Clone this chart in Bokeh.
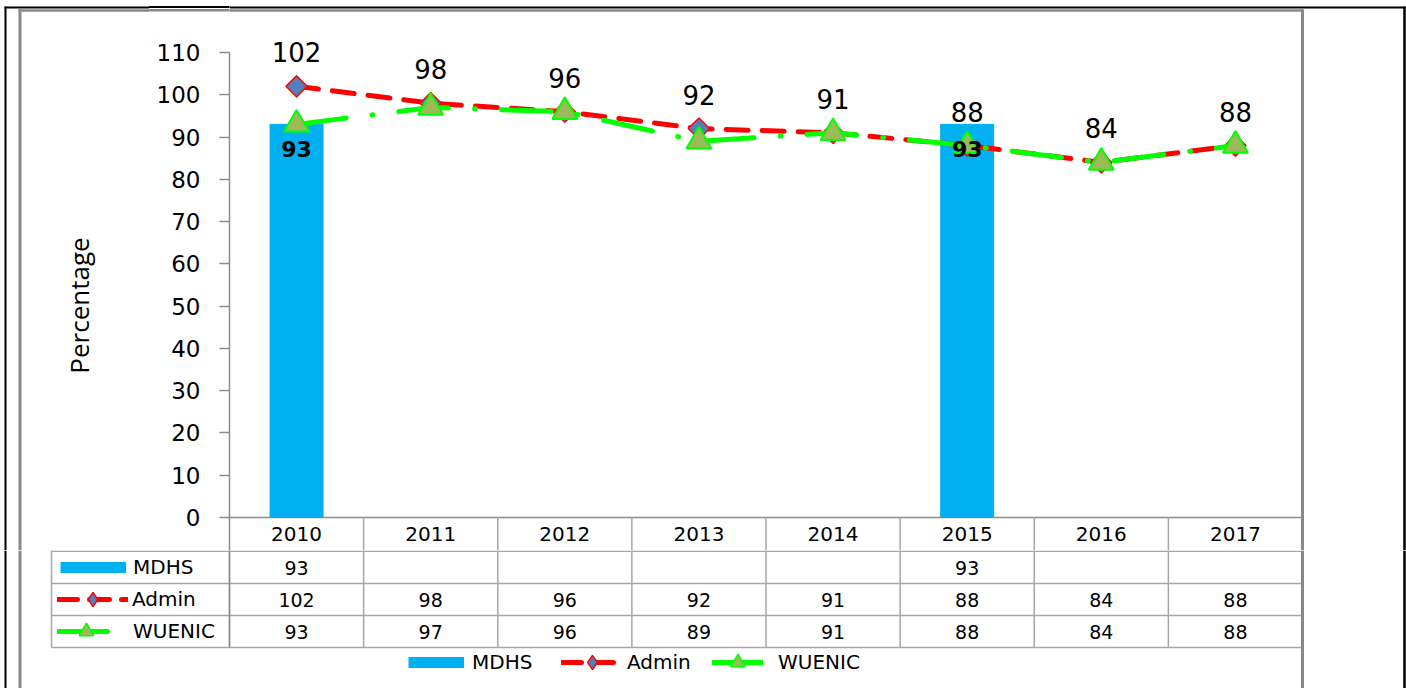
import numpy as np
from bokeh.plotting import figure
from bokeh.layouts import row
from bokeh.models import Range1d, FixedTicker, ColumnDataSource, Legend, LegendItem
from bokeh.core.properties import value
from bokeh.embed import file_html
from bokeh.resources import INLINE

# ---------------- data ----------------
years = ["2010", "2011", "2012", "2013", "2014", "2015", "2016", "2017"]
mdhs = [93, None, None, None, None, 93, None, None]
admin = [102, 98, 96, 92, 91, 88, 84, 88]
wuenic = [93, 97, 96, 89, 91, 88, 84, 88]
y_ticks = [0, 10, 20, 30, 40, 50, 60, 70, 80, 90, 100, 110]
series_names = ["MDHS", "Admin", "WUENIC"]
y_title = "Percentage"

# ---------------- colours / fonts ----------------
C_BAR = "#00b0f0"
C_ADMIN = "#ff0000"
C_ADMIN_FILL = "#4f81bd"
C_WU = "#00ff00"
C_WU_FILL = "#9bbb59"
C_GRID = "#a6a6a6"
C_AXIS = "#8c8c8c"
C_FRAME = "#888888"
F_NUM = "DejaVu Sans"

# ---------------- layout (page pixels) ----------------
TOTAL_W = 1406
TOTAL_H = 688
FRAME_L = 229          # left edge of first category column
COL_W = (1302 - 229) / 8
Y0 = 517               # pixel of y=0
Y110 = 52              # pixel of y=110
HDR_B = 550            # bottom of header row (end of the chart part)
TAB_L = 51             # left edge of the table
PPU = (Y0 - Y110) / 110.0
AXIS_PANEL = 80        # room for the y axis ticks and labels
L_W = FRAME_L - AXIS_PANEL

A_H = HDR_B
B_H = TOTAL_H - A_H


def px_x(px):
    return (px - FRAME_L) / COL_W


def px_yA(py):
    return (Y0 - py) / PPU


x_end = px_x(TOTAL_W)
y_start = px_yA(HDR_B)
y_end = px_yA(0)

xs = [i + 0.5 for i in range(len(years))]
src = ColumnDataSource(dict(
    x=xs, year=years, admin=admin, wuenic=wuenic,
    admin_lbl=[str(v) for v in admin], wuenic_lbl=[str(v) for v in wuenic],
))
bi = [i for i, v in enumerate(mdhs) if v is not None]
bar_src = ColumnDataSource(dict(
    x=[xs[i] for i in bi], top=[mdhs[i] for i in bi], lbl=[str(mdhs[i]) for i in bi],
))

# ---------------- left strip: y title + box edges ----------------
L = figure(width=L_W, height=A_H, x_axis_type=None, y_axis_type=None, title=None,
           x_range=Range1d(0, L_W), y_range=Range1d(0, A_H),
           toolbar_location=None, output_backend="svg",
           min_border_left=0, min_border_right=0, min_border_top=0, min_border_bottom=0)
L.outline_line_color = None
L.grid.grid_line_color = None
L.segment(x0=5, y0=A_H - 6, x1=5, y1=0, line_color="black", line_width=2)
L.segment(x0=19.5, y0=A_H - 8.75, x1=19.5, y1=0, line_color=C_FRAME, line_width=3)
L.segment(x0=4, y0=A_H - 7, x1=L_W, y1=A_H - 7, line_color="black", line_width=2)
L.segment(x0=18, y0=A_H - 10, x1=L_W, y1=A_H - 10, line_color=C_FRAME, line_width=2.5)
L.text(x=78, y=A_H - 305, text=[y_title], angle=np.pi / 2, text_align="center",
       text_baseline="middle", text_font=value("Open Sans"), text_font_size="26px",
       text_color="black")

# ---------------- figure A: chart + header row ----------------
A = figure(width=TOTAL_W - L_W, height=A_H, x_axis_type=None, title=None,
           x_range=Range1d(0, x_end), y_range=Range1d(y_start, y_end),
           toolbar_location=None, output_backend="svg",
           min_border_left=AXIS_PANEL, min_border_right=0,
           min_border_top=0, min_border_bottom=0)
A.outline_line_color = None
A.grid.grid_line_color = None
A.border_fill_color = None
# box edges continuing through the axis margin (behind the transparent border)
A.styles = {
    "background-color": "white",
    "background-image": "linear-gradient(#000,#000), linear-gradient(#888,#888)",
    "background-size": "100% 2px, 100% 2.5px",
    "background-position": "0px 6px, 0px 8.75px",
    "background-repeat": "no-repeat",
}

ya = A.yaxis[0]
ya.ticker = FixedTicker(ticks=y_ticks)
ya.bounds = (y_start, 110)
ya.axis_line_color = C_AXIS
ya.axis_line_width = 1.5
ya.major_tick_line_color = C_AXIS
ya.major_tick_line_width = 1.5
ya.major_tick_out = 10
ya.major_tick_in = 0
ya.minor_tick_line_color = None
ya.major_label_text_font = F_NUM
ya.major_label_text_font_size = "23px"
ya.major_label_text_color = "black"
ya.major_label_standoff = 19

# frame lines of the chart area / document box (layout)
A.segment(x0=0, y0=px_yA(7), x1=px_x(1405), y1=px_yA(7), line_color="black", line_width=2)
A.segment(x0=0, y0=px_yA(10), x1=px_x(1302), y1=px_yA(10), line_color=C_FRAME, line_width=2.5)
A.segment(x0=px_x(1302), y0=y_start, x1=px_x(1302), y1=px_yA(8.75), line_color=C_FRAME, line_width=3)
A.segment(x0=px_x(1404), y0=y_start, x1=px_x(1404), y1=px_yA(6), line_color="black", line_width=2.5)

# table header row
A.segment(x0=0, y0=0, x1=8, y1=0, line_color=C_AXIS, line_width=1.5)
A.segment(x0=list(range(1, 8)), y0=y_start, x1=list(range(1, 8)), y1=0,
          line_color=C_GRID, line_width=1.5)
A.text(x="x", y=y_start / 2, text="year", source=src, text_align="center",
       text_baseline="middle", text_font=value(F_NUM), text_font_size="20px",
       text_color="black")

# data
A.vbar(x="x", top="top", width=0.395, source=bar_src, fill_color=C_BAR, line_color=C_BAR)
A.line("x", "admin", source=src, line_color=C_ADMIN, line_width=5,
       line_dash="22 14", line_cap="round")
A.scatter("x", "admin", source=src, marker="square", angle=np.pi / 4, size=15,
          fill_color=C_ADMIN_FILL, line_color=C_ADMIN, line_width=1.5)
A.line("x", "wuenic", source=src, line_color=C_WU, line_width=5,
       line_dash="50 26 1 26", line_cap="round")
A.scatter("x", "wuenic", source=src, marker="triangle", size=25,
          fill_color=C_WU_FILL, line_color=C_WU, line_width=2)
A.text(x="x", y="top", text="lbl", source=bar_src, y_offset=25, text_align="center",
       text_baseline="middle", text_font=value(F_NUM), text_font_style="bold",
       text_font_size="22px", text_color="black")
A.text(x="x", y="admin", text="admin_lbl", source=src, y_offset=-34, text_align="center",
       text_baseline="middle", text_font=value(F_NUM), text_font_size="26px",
       text_color="black")

# ---------------- figure B: data table + legend ----------------
B = figure(width=TOTAL_W, height=B_H, x_axis_type=None, y_axis_type=None, title=None,
           x_range=Range1d(px_x(0), x_end), y_range=Range1d(B_H, 0),
           toolbar_location=None, output_backend="svg",
           min_border_left=0, min_border_right=0,
           min_border_top=0, min_border_bottom=0)
B.outline_line_color = None
B.grid.grid_line_color = None

x_tab = px_x(TAB_L)
row_top = [0.75, 33, 65, 97]
B.segment(x0=x_tab, y0=row_top, x1=px_x(1302), y1=row_top, line_color=C_GRID, line_width=1.5)
vx = [x_tab] + list(range(0, 8))
B.segment(x0=vx, y0=0, x1=vx, y1=97, line_color=C_GRID, line_width=1.5)
B.segment(x0=0, y0=0, x1=0, y1=97, line_color=C_AXIS, line_width=1.5)
# document / chart box lines
B.segment(x0=px_x(1302), y0=0, x1=px_x(1302), y1=B_H, line_color=C_FRAME, line_width=3)
B.segment(x0=px_x(1404), y0=0, x1=px_x(1404), y1=B_H, line_color="black", line_width=2.5)
B.segment(x0=px_x(19.5), y0=0, x1=px_x(19.5), y1=B_H, line_color=C_FRAME, line_width=3)
B.segment(x0=px_x(5), y0=0, x1=px_x(5), y1=B_H, line_color="black", line_width=2)

B.text(x="x", y=17, text="lbl", source=bar_src, text_align="center", text_baseline="middle",
       text_font=value(F_NUM), text_font_size="19px", text_color="black")
B.text(x="x", y=49, text="admin_lbl", source=src, text_align="center", text_baseline="middle",
       text_font=value(F_NUM), text_font_size="19px", text_color="black")
B.text(x="x", y=81, text="wuenic_lbl", source=src, text_align="center", text_baseline="middle",
       text_font=value(F_NUM), text_font_size="19px", text_color="black")

# legend key renderers (one placeholder point each, never visible)
NA = [float("nan")]
k_mdhs = B.line(x=NA, y=NA, line_color=C_BAR, line_width=11, line_cap="butt")
k_adm_l = B.line(x=NA, y=NA, line_color=C_ADMIN, line_width=5, line_dash="20 12", line_cap="round")
k_adm_m = B.scatter(x=NA, y=NA, marker="diamond", fill_color=C_ADMIN_FILL,
                    line_color=C_ADMIN, line_width=1.5)
k_wu_l = B.line(x=NA, y=NA, line_color=C_WU, line_width=5, line_dash="50 26 1 26", line_cap="round")
k_wu_m = B.scatter(x=NA, y=NA, marker="triangle", fill_color=C_WU_FILL,
                   line_color=C_WU, line_width=1.5)
keys = {"MDHS": [k_mdhs], "Admin": [k_adm_l, k_adm_m], "WUENIC": [k_wu_l, k_wu_m]}


def add_legend(label, x_px, cy_px, gw, standoff, gh=36):
    leg = Legend(items=[LegendItem(label=label, renderers=keys[label])],
                 location=(x_px, TOTAL_H - (cy_px + gh / 2)),
                 orientation="vertical", glyph_width=gw, glyph_height=gh,
                 label_height=gh, label_standoff=standoff, padding=0, margin=0,
                 spacing=0, border_line_color=None, background_fill_alpha=0,
                 label_text_font=F_NUM, label_text_font_size="20px",
                 label_text_color="black")
    B.add_layout(leg)


# row keys of the data table
add_legend(series_names[0], 60, 567, 66, 7)
add_legend(series_names[1], 57, 599, 71, 4)
add_legend(series_names[2], 57, 631, 58, 18)
# legend below the table
add_legend(series_names[0], 408, 662, 56, 8)
add_legend(series_names[1], 561, 662, 62, 4)
add_legend(series_names[2], 712, 662, 51, 15)

open("out.html", "w").write(file_html([row(L, A, spacing=0), B], INLINE))
